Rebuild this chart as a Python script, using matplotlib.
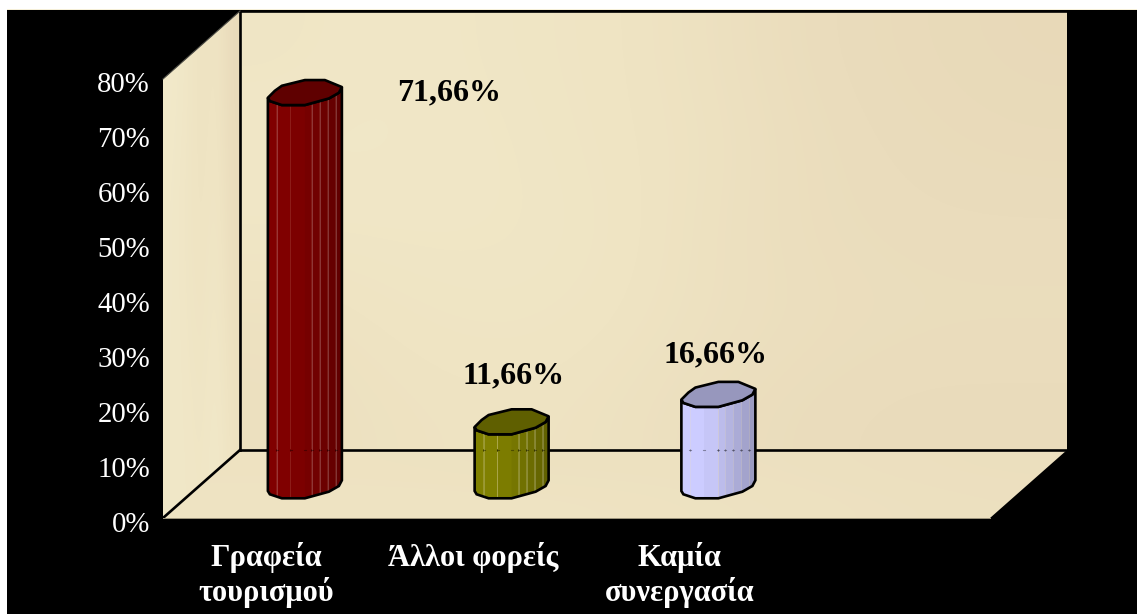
import numpy as np
import matplotlib
matplotlib.use("Agg")
import matplotlib.pyplot as plt
from matplotlib.colors import to_rgb, LinearSegmentedColormap
from matplotlib.patches import Polygon, Rectangle
from matplotlib.transforms import ScaledTranslation

# ---- data ----
categories = ["Γραφεία\nτουρισμού", "Άλλοι φορείς", "Καμία\nσυνεργασία"]
values = [71.66, 11.66, 16.66]
value_labels = ["71,66%", "11,66%", "16,66%"]
tick_values = [0, 10, 20, 30, 40, 50, 60, 70, 80]
tick_labels = ["0%", "10%", "20%", "30%", "40%", "50%", "60%", "70%", "80%"]

# ---- style ----
W, H = 1137, 614
bar_colors = ["#800000", "#808000", "#CCCCFF"]
n_slots = 4
ax_left, ax_right, ax_bottom, ax_top = 163, 990, 518, 79
depth_px = (77, 68)
base_drop_px = 2
# cylinder cross-section, pixels around the centre (x, up)
edge_x = [-37, -30, -23, 0, 20, 37, 34, 24, 0, -23, -35]
edge_y = [-5, 2, 7, 12.7, 12.7, 5.7, 0, -5.7, -12.3, -12.3, -8.3]
low_x = [-37, -35, -23, 0, 24, 34, 37]
low_y = [-5, -8.3, -12.3, -12.3, -5.7, 0, 5.7]
strip_x = [-37, -28, -14, 0, 7, 15, 23, 31, 37]
strip_shade = [1.0, 1.0, 0.97, 0.92, 0.88, 0.84, 0.80, 0.76]
top_shade = 0.74
line_alpha = [0.30, 0.30, 0.0]
# label offsets from the top of the bar, pixels
label_off = [(144, 0), (2, 46), (-3, 40)]

fig = plt.figure(figsize=(W / 100, H / 100), dpi=100, facecolor="white")
fig.add_artist(Rectangle((7 / W, 0), 1 - 7 / W, 1 - 10 / H, transform=fig.transFigure,
                         facecolor="black", edgecolor="none", zorder=-5))
fig.add_artist(Rectangle((7 / W, 1 - 10 / H), 1 - 7 / W, 1 / H, transform=fig.transFigure,
                         facecolor="#F5EFD8", edgecolor="none", zorder=-5))
ax = fig.add_axes([ax_left / W, 1 - ax_bottom / H, (ax_right - ax_left) / W, (ax_bottom - ax_top) / H])
ax.patch.set_visible(False)
ax.set_xlim(0, n_slots)
ax.set_ylim(0, 80)
for s in ax.spines.values():
    s.set_visible(False)

px_x = (ax_right - ax_left) / n_slots
px_y = (ax_bottom - ax_top) / 80
dx, dy = depth_px[0] / px_x, depth_px[1] / px_y

cmap = LinearSegmentedColormap.from_list("parch", ["#E6D6B4", "#EADCBC", "#EFE4C3", "#F2EACB"])


def textured(tones, poly_xy, z):
    im = ax.imshow(np.array(tones), cmap=cmap, vmin=0, vmax=1, interpolation="bicubic",
                   aspect="auto", origin="upper",
                   extent=(min(p[0] for p in poly_xy), max(p[0] for p in poly_xy),
                           min(p[1] for p in poly_xy), max(p[1] for p in poly_xy)), zorder=z)
    clip = Polygon(poly_xy, closed=True, transform=ax.transData, facecolor="none", edgecolor="none")
    ax.add_patch(clip)
    im.set_clip_box(fig.bbox)
    im.set_clip_path(clip)
    return im


back = [(dx, dy), (n_slots + dx, dy), (n_slots + dx, 80 + dy), (dx, 80 + dy)]
left = [(0, 0), (dx, dy), (dx, 80 + dy), (0, 80)]
floor = [(0, 0), (n_slots, 0), (n_slots + dx, dy), (dx, dy)]

textured([[0.75, 0.85, 0.75, 0.70, 0.55, 0.35, 0.25, 0.20],
          [0.85, 0.85, 0.80, 0.70, 0.60, 0.40, 0.30, 0.25],
          [0.80, 0.80, 0.80, 0.75, 0.55, 0.40, 0.35, 0.35],
          [0.55, 0.70, 0.75, 0.70, 0.55, 0.45, 0.40, 0.40],
          [0.50, 0.60, 0.65, 0.60, 0.45, 0.35, 0.30, 0.30]], back, 1)
textured([[0.95, 0.85, 0.55, 0.75, 0.25],
          [0.90, 0.75, 0.60, 0.80, 0.35],
          [0.90, 0.80, 0.65, 0.90, 0.45],
          [0.85, 0.85, 0.75, 0.95, 0.60]], left, 1)
textured([[0.60, 0.60, 0.55, 0.55, 0.50, 0.45],
          [0.65, 0.65, 0.65, 0.60, 0.55, 0.50]], floor, 1)
ax.set_xlim(0, n_slots)
ax.set_ylim(0, 80)

# wall outlines
lw = 1.9
ax.plot([dx, n_slots + dx], [dy, dy], color="black", lw=lw, zorder=2, clip_on=False)
ax.plot([dx, dx], [dy, 80 + dy], color="black", lw=lw, zorder=2, clip_on=False)
ax.plot([dx, n_slots + dx], [80 + dy, 80 + dy], color="black", lw=lw, zorder=2, clip_on=False)
ax.plot([0, dx], [0, dy], color="black", lw=lw, zorder=2, clip_on=False)
ax.plot([0, dx], [80, 80 + dy], color="#4A4A44", lw=0.8, zorder=2, clip_on=False)
ax.plot([0, n_slots], [0, 0], color="#A09880", lw=0.7, zorder=2, clip_on=False)

# cylinders
for i, (v, col) in enumerate(zip(values, bar_colors)):
    rgb = np.array(to_rgb(col))
    cx = i + 0.5 + dx / 2
    base = dy / 2 - base_drop_px / px_y
    top = base + v
    X = lambda p: cx + np.asarray(p, float) / px_x
    Y = lambda p: np.asarray(p, float) / px_y
    for k in range(len(strip_x) - 1):
        xs = np.linspace(strip_x[k], strip_x[k + 1], 6)
        lo = np.interp(xs, low_x, low_y)
        pts = np.r_[np.c_[X(xs), base + Y(lo)], np.c_[X(xs[::-1]), top + Y(lo[::-1])]]
        ax.add_patch(Polygon(pts, closed=True, facecolor=rgb * strip_shade[k], edgecolor="none", zorder=3))
    if line_alpha[i] > 0:
        for sx in strip_x[1:-1]:
            if sx in (-14, 0):
                continue
            lo_v = np.interp(sx, low_x, low_y) / px_y
            ax.plot([X(sx)] * 2, [base + lo_v, top + lo_v], color="white", alpha=line_alpha[i], lw=0.5, zorder=4)
    # back-wall line showing through the bar
    for sx in strip_x[1:-1]:
        ax.plot([X(sx - 1), X(sx + 1)], [dy, dy], color="black", alpha=0.35, lw=0.8, zorder=4)
    outline = np.r_[np.c_[X(low_x), base + Y(low_y)],
                    np.c_[X(low_x[::-1]), top + Y(low_y[::-1])]]
    ax.add_patch(Polygon(outline, closed=True, facecolor="none", edgecolor="black", lw=lw, zorder=5,
                         clip_on=False))
    ax.add_patch(Polygon(np.c_[X(edge_x), top + Y(edge_y)], closed=True, facecolor=rgb * top_shade,
                         edgecolor="black", lw=lw, zorder=6, joinstyle="round", clip_on=False))
    ox, oy = label_off[i]
    ax.annotate(value_labels[i], xy=(cx, top), xytext=(ox * 0.72, oy * 0.72), textcoords="offset points",
                ha="center", va="center", family="Liberation Serif", fontweight="bold",
                fontsize=23, color="black", zorder=7, annotation_clip=False)

# axes text
ax.set_yticks(tick_values, tick_labels, family="Liberation Serif", fontsize=20.7, color="white")
ax.set_xticks([i + 0.5 for i in range(len(categories))], categories, family="Liberation Serif",
              fontweight="bold", fontsize=22, color="white", linespacing=1.17)
ax.tick_params(axis="both", length=0)
ax.tick_params(axis="y", pad=9.3)
ax.tick_params(axis="x", pad=17)
shift_y = ScaledTranslation(0, -3.5 / 100, fig.dpi_scale_trans)
for t in ax.get_yticklabels():
    t.set_transform(t.get_transform() + shift_y)

fig.savefig("out.png", dpi=100, facecolor="white")
